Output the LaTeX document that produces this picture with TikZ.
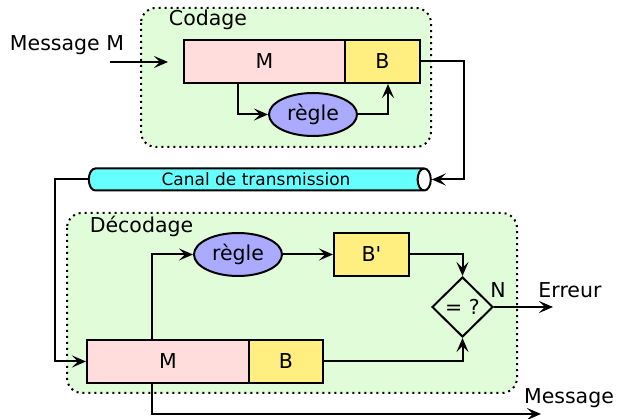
\documentclass[tikz,border=0pt]{standalone}
\usepackage{fontspec}
\setmainfont{DejaVu Sans}
\usetikzlibrary{arrows.meta,shapes.geometric}
\definecolor{grpgreen}{RGB}{224,252,216}
\definecolor{msgpink}{RGB}{255,221,221}
\definecolor{keyyellow}{RGB}{255,238,128}
\definecolor{rulepurple}{RGB}{170,170,255}
\definecolor{chancyan}{RGB}{102,255,255}
\tikzset{
  groupbox/.style={fill=grpgreen, line width=2pt, dash pattern=on 2pt off 4pt, rounded corners=15pt},
  blockbox/.style={draw, line width=2pt, minimum height=43pt, inner sep=0pt},
  msgbox/.style={blockbox, fill=msgpink},
  keybox/.style={blockbox, fill=keyyellow},
  rulebox/.style={draw, ellipse, line width=2pt, fill=rulepurple, minimum width=88pt, minimum height=43pt, inner sep=0pt},
  testbox/.style={draw, diamond, line width=2pt, minimum width=61pt, minimum height=60pt, inner sep=0pt},
  conn/.style={line width=2pt, -{Stealth[length=14pt,width=12pt,inset=6pt]}},
  lbl/.style={inner sep=0pt}
}
\begin{document}
\begin{tikzpicture}[x=1pt, y=-1pt, font=\fontsize{20.5}{24}\selectfont]
\useasboundingbox (0,0) rectangle (619,419);

% encoding stage
\draw[groupbox] (141,8) rectangle (431,147);
\node[lbl] (codage) at (208,20) {Codage};
\node[msgbox, minimum width=161pt] (mc) at (264.5,61.5) {M};
\node[keybox, minimum width=75pt] (bc) at (382.5,61.5) {B};
\node[rulebox] (rc) at (313,114.5) {règle};
\node[lbl] (msgin) at (67,45) {Message M};
\coordinate (in0) at (110,62);
\coordinate (in1) at (168,62);

% transmission channel
\node[cylinder, draw, line width=2pt, aspect=1,
      cylinder uses custom fill, cylinder body fill=chancyan, cylinder end fill=white,
      minimum height=342pt, minimum width=22pt, inner sep=0pt,
      font=\fontsize{17}{20}\selectfont] (canal) at (256,179.5) {Canal de transmission};

% decoding stage
\draw[groupbox] (67,213) rectangle (517,393);
\node[lbl] (decodage) at (141.5,226) {Décodage};
\node[rulebox] (rd) at (238,254.5) {règle};
\node[keybox, minimum width=75pt] (bp) at (371.5,254.5) {B\textquotesingle};
\node[testbox] (eq) at (462.5,307) {= ?};
\node[msgbox, minimum width=162pt] (md) at (168,361.5) {M};
\node[keybox, minimum width=74pt] (bd) at (286,361.5) {B};
\node[lbl] (n) at (498,290) {N};
\node[lbl] (erreur) at (570,290) {Erreur};
\node[lbl] (msgoutlbl) at (569,398) {Message};
\coordinate (errend) at (553,307);
\coordinate (msgend) at (541,414);

% connectors
\draw[conn] (in0) -- (in1);
\draw[conn] ([xshift=-26.5pt]mc.south) |- (rc.west);
\draw[conn] (rc.east) -| ([xshift=5.5pt]bc.south);
\draw[conn] (bc.east) -- ++(43,0) |- (canal.east);
\draw[conn] (canal.west) -- ++(-33,0) |- (md.west);
\draw[conn] ([xshift=-16pt]md.north) |- (rd.west);
\draw[conn] (rd.east) -- (bp.west);
\draw[conn] (bp.east) -| (eq.north);
\draw[conn] (bd.east) -| (eq.south);
\draw[conn] (eq.east) -- (errend);
\draw[conn] ([xshift=-16pt]md.south) |- (msgend);
\end{tikzpicture}
\end{document}
